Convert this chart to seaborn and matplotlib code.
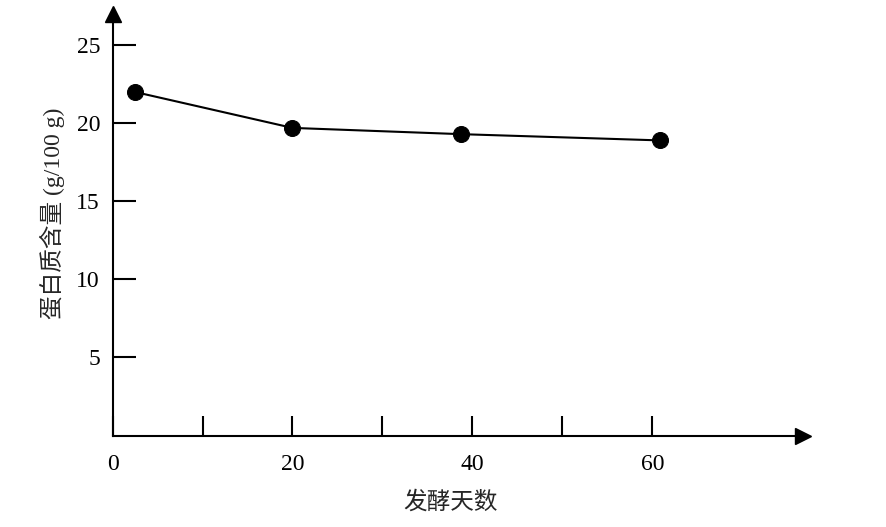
import numpy as np
import pandas as pd
import matplotlib
matplotlib.use('Agg')
import matplotlib.pyplot as plt
import seaborn as sns

# ── data ─────────────────────────────────────────────────────────────────────
days    = [2.5, 20.0, 38.7, 60.8]
protein = [22.0, 19.7, 19.3, 18.9]
x_major = [0, 20, 40, 60]
x_minor = [10, 30, 50]
y_ticks = [5, 10, 15, 20, 25]
x_label = '发酵天数'
y_label = '蛋白质含量 (g/100 g)'

df = pd.DataFrame({'day': days, 'protein': protein})

sns.set_style('ticks')
plt.rcParams['font.family'] = ['Liberation Serif', 'Noto Sans CJK SC', 'DejaVu Sans']

fig = plt.figure(figsize=(8.86, 5.27), dpi=100)
ax = fig.add_axes([0.127, 0.1736, 0.779, 0.80])

sns.lineplot(data=df, x='day', y='protein', ax=ax, color='black',
             linewidth=1.5, marker='o', markersize=11.5,
             markeredgecolor='black', markerfacecolor='black')

ax.set_xlim(0, 76.7)
ax.set_ylim(0, 27.0)

for s in ['top', 'right']:
    ax.spines[s].set_visible(False)
for s in ['left', 'bottom']:
    ax.spines[s].set_linewidth(1.5)
    ax.spines[s].set_color('black')

# arrow heads
ax.plot(1, 0, '>', color='black', markersize=11, transform=ax.transAxes, clip_on=False)
ax.plot(0, 1, '^', color='black', markersize=11, transform=ax.transAxes, clip_on=False)

ax.set_xticks(x_major)
ax.set_xticks(x_minor, minor=True)
ax.set_yticks(y_ticks)
ax.tick_params(axis='x', which='both', direction='in', length=14.4, width=1.5,
               pad=13, labelsize=17, colors='black')
ax.tick_params(axis='y', direction='in', length=16.5, width=1.5,
               pad=9, labelsize=17, colors='black')

ax.set_xlabel('')
ax.set_ylabel('')
fig.text(0.509, 0.047, x_label, ha='center', va='center', fontsize=17,
         family=['Noto Sans CJK SC', 'DejaVu Sans'])
fig.text(0.059, 0.596, y_label, ha='center', va='center', rotation=90,
         fontsize=17, family=['Liberation Serif', 'Noto Sans CJK SC'])

fig.savefig('out.png', dpi=100)
